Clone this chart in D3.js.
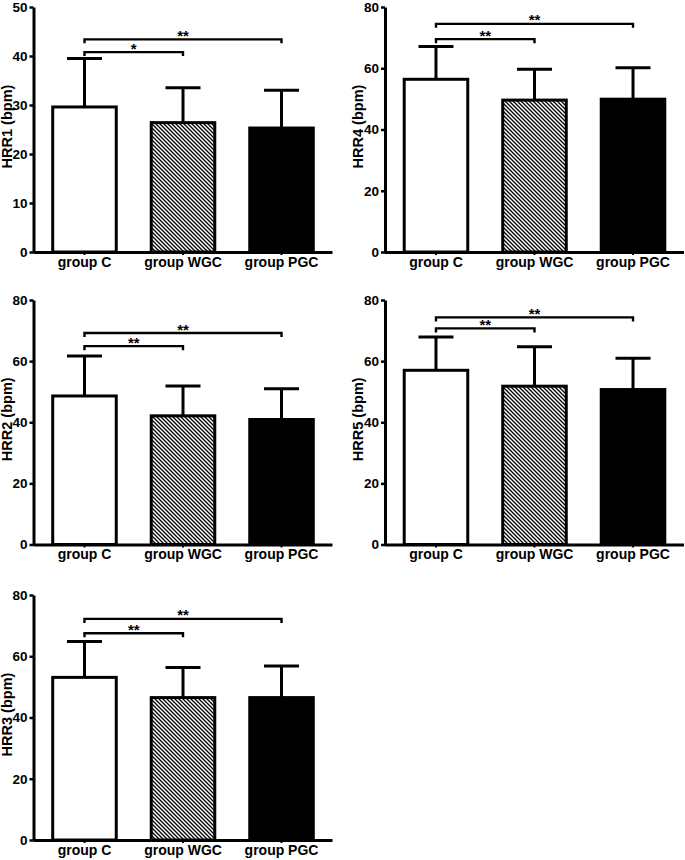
<!DOCTYPE html>
<html>
<head>
<meta charset="utf-8">
<script src="https://cdn.jsdelivr.net/npm/d3@7"></script>
<style>
  html, body { margin: 0; padding: 0; background: #fff; }
  svg { display: block; }
  text { font-family: "Liberation Sans", Arial, Helvetica, sans-serif; font-weight: bold; fill: #000; }
</style>
</head>
<body>
<script>
// ---------- data ----------
const categories = ["group C", "group WGC", "group PGC"];
const panelTitles = ["HRR1 (bpm)", "HRR4 (bpm)", "HRR2 (bpm)", "HRR5 (bpm)", "HRR3 (bpm)"];
const yMaxes = [50, 80, 80, 80, 80];
const yTicksHRR1 = [0, 10, 20, 30, 40, 50];
const yTicksOther = [0, 20, 40, 60, 80];

const hrr1Means = [29.6, 26.4, 25.3];
const hrr1SD    = [9.9, 7.1, 7.7];
const hrr4Means = [56.4, 49.6, 49.9];
const hrr4SD    = [10.7, 10.1, 10.3];
const hrr2Means = [48.6, 42.1, 40.9];
const hrr2SD    = [13.1, 9.8, 10.1];
const hrr5Means = [57.0, 51.8, 50.7];
const hrr5SD    = [10.9, 12.9, 10.2];
const hrr3Means = [53.1, 46.5, 46.5];
const hrr3SD    = [11.7, 9.8, 10.3];

// significance brackets: [level for C vs WGC, level for C vs PGC]
const hrr1Brackets = [40.8, 43.4];
const hrr4Brackets = [69.5, 74.5];
const hrr2Brackets = [64.9, 69.2];
const hrr5Brackets = [70.7, 74.3];
const hrr3Brackets = [67.5, 72.2];
const hrr1Stars = ["*", "**"];
const otherStars = ["**", "**"];

// ---------- layout ----------
const W = 685, H = 860;
const FONT = '"Liberation Sans", Arial, Helvetica, sans-serif';
const svg = d3.select("body").append("svg").attr("width", W).attr("height", H);

const defs = svg.append("defs");
const pat = defs.append("pattern")
  .attr("id", "hatch").attr("patternUnits", "userSpaceOnUse")
  .attr("width", 4).attr("height", 4);
pat.append("rect").attr("width", 4).attr("height", 4).attr("fill", "#fff");
pat.append("path")
  .attr("d", "M-1,-1 L5,5 M-1,3 L1,5 M3,-1 L5,1")
  .attr("stroke", "#000").attr("stroke-width", 1.3);

const panels = [
  { title: panelTitles[0], yMax: yMaxes[0], ticks: yTicksHRR1, means: hrr1Means, sd: hrr1SD, br: hrr1Brackets, stars: hrr1Stars, ax: 33.5, top: 7, bottom: 252 },
  { title: panelTitles[1], yMax: yMaxes[1], ticks: yTicksOther, means: hrr4Means, sd: hrr4SD, br: hrr4Brackets, stars: otherStars, ax: 385, top: 7, bottom: 252 },
  { title: panelTitles[2], yMax: yMaxes[2], ticks: yTicksOther, means: hrr2Means, sd: hrr2SD, br: hrr2Brackets, stars: otherStars, ax: 33.5, top: 300, bottom: 544.5 },
  { title: panelTitles[3], yMax: yMaxes[3], ticks: yTicksOther, means: hrr5Means, sd: hrr5SD, br: hrr5Brackets, stars: otherStars, ax: 385, top: 300, bottom: 544.5 },
  { title: panelTitles[4], yMax: yMaxes[4], ticks: yTicksOther, means: hrr3Means, sd: hrr3SD, br: hrr3Brackets, stars: otherStars, ax: 33.5, top: 595, bottom: 840 }
];
const fills = ["#fff", "url(#hatch)", "#000"];

panels.forEach(p => {
  const g = svg.append("g");
  const x = d3.scaleBand().domain(categories)
    .range([p.ax, p.ax + 299]).paddingInner(0.355).paddingOuter(0.195);
  const y = d3.scaleLinear().domain([0, p.yMax]).range([p.bottom, p.top]);
  const data = categories.map((c, i) => ({ c, m: p.means[i], s: p.sd[i], f: fills[i] }));

  // error bars (upper only)
  const cap = 17.5;
  data.forEach(d => {
    const cx = x(d.c) + x.bandwidth() / 2;
    g.append("line").attr("x1", cx).attr("x2", cx)
      .attr("y1", y(d.m)).attr("y2", y(d.m + d.s))
      .attr("stroke", "#000").attr("stroke-width", 3);
    g.append("line").attr("x1", cx - cap).attr("x2", cx + cap)
      .attr("y1", y(d.m + d.s)).attr("y2", y(d.m + d.s))
      .attr("stroke", "#000").attr("stroke-width", 3);
  });

  // bars
  g.selectAll("rect.bar").data(data).enter().append("rect")
    .attr("class", "bar")
    .attr("x", d => x(d.c))
    .attr("y", d => y(d.m))
    .attr("width", x.bandwidth())
    .attr("height", d => y(0) - y(d.m))
    .attr("fill", d => d.f)
    .attr("stroke", "#000").attr("stroke-width", 3);

  // y axis
  const yAxis = d3.axisLeft(y).tickValues(p.ticks).tickSize(4).tickPadding(2).tickSizeOuter(0);
  const ya = g.append("g").attr("transform", `translate(${p.ax},0)`).call(yAxis);
  ya.select(".domain").attr("stroke", "#000").attr("stroke-width", 3);
  ya.selectAll(".tick line").attr("stroke", "#000").attr("stroke-width", 2.5);
  ya.selectAll(".tick text").attr("font-size", 13.5).attr("font-weight", "bold")
    .attr("font-family", FONT);

  // x axis
  const xAxis = d3.axisBottom(x).tickSize(3).tickPadding(2).tickSizeOuter(0);
  const xa = g.append("g").attr("transform", `translate(0,${p.bottom})`).call(xAxis);
  xa.select(".domain").attr("stroke", "#000").attr("stroke-width", 3)
    .attr("d", `M${p.ax},0.5H${p.ax + 299}`);
  xa.selectAll(".tick line").attr("stroke", "#000").attr("stroke-width", 2);
  xa.selectAll(".tick text").attr("font-size", 14).attr("font-weight", "bold")
    .attr("font-family", FONT);

  // y title
  g.append("text")
    .attr("transform", `translate(${p.ax - 27},${(p.top + p.bottom) / 2 - 3}) rotate(-90)`)
    .attr("text-anchor", "middle").attr("dy", "0.35em")
    .attr("font-size", 14.5)
    .text(p.title);

  // significance brackets
  const c0 = x(categories[0]) + x.bandwidth() / 2;
  [1, 2].forEach((k, j) => {
    const cx = x(categories[k]) + x.bandwidth() / 2;
    const by = y(p.br[j]);
    g.append("path")
      .attr("d", `M${c0},${by + 4}V${by}H${cx}V${by + 4}`)
      .attr("fill", "none").attr("stroke", "#000").attr("stroke-width", 2.4);
    g.append("text")
      .attr("x", (c0 + cx) / 2).attr("y", by + 1.5)
      .attr("text-anchor", "middle").attr("font-size", 15)
      .text(p.stars[j]);
  });
});
</script>
</body>
</html>
